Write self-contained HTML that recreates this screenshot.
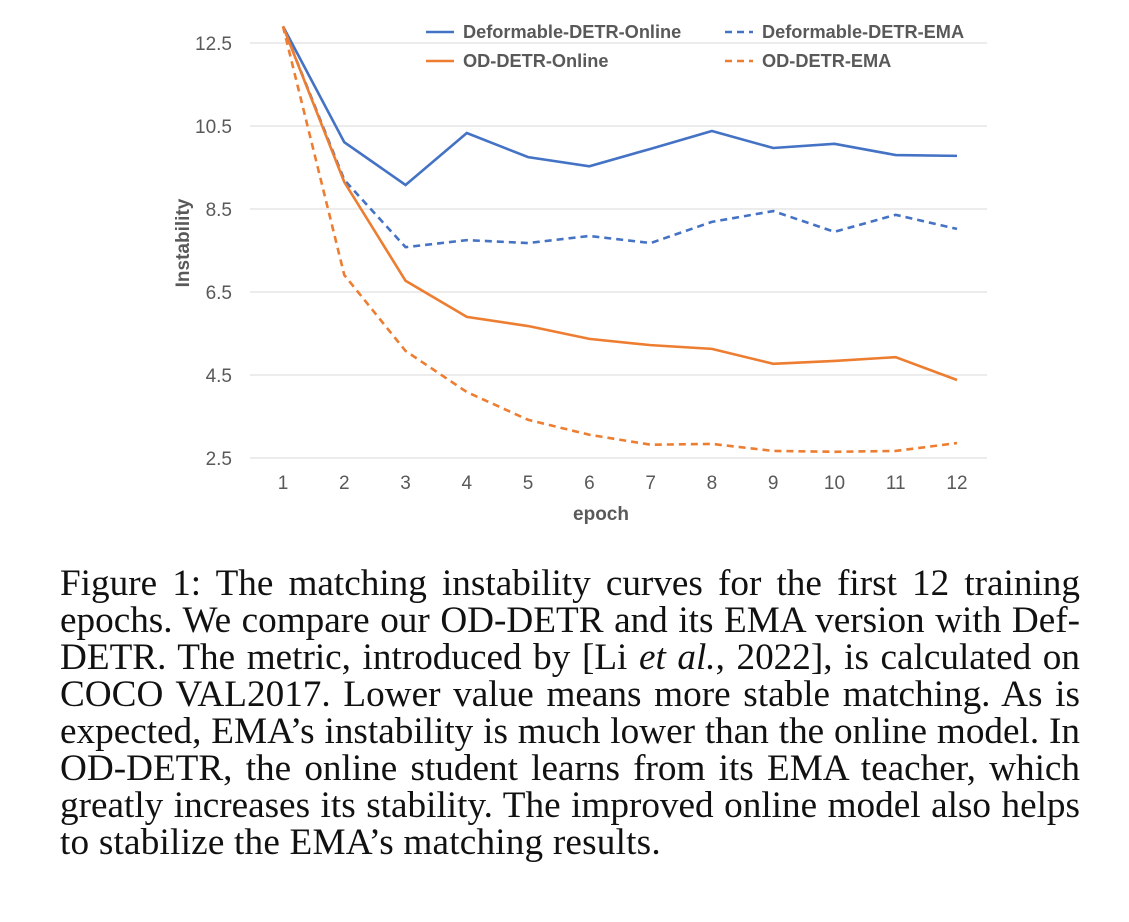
<!DOCTYPE html>
<html><head><meta charset="utf-8"><style>
body{margin:0;background:#fff;width:1129px;height:922px;overflow:hidden;position:relative}
svg text{font-family:"Liberation Sans",sans-serif}
#cap{position:absolute;left:60px;top:565px;width:1020px;font-family:"Liberation Serif",serif;font-size:37.2px;line-height:37px;color:#111}
#cap div{text-align:justify;text-align-last:justify;white-space:nowrap;height:37px}
#cap div.last{text-align-last:left;letter-spacing:0.2px}
</style></head><body>
<svg id="chart" width="1129" height="560" style="position:absolute;left:0;top:0"></svg>
<div id="cap">
<div>Figure 1: The matching instability curves for the first 12 training</div>
<div>epochs. We compare our OD-DETR and its EMA version with Def-</div>
<div>DETR. The metric, introduced by [Li <i>et al.</i>, 2022], is calculated on</div>
<div>COCO VAL2017. Lower value means more stable matching. As is</div>
<div>expected, EMA’s instability is much lower than the online model. In</div>
<div>OD-DETR, the online student learns from its EMA teacher, which</div>
<div>greatly increases its stability. The improved online model also helps</div>
<div class="last">to stabilize the EMA’s matching results.</div>
</div>
<script>
const epochs=[1,2,3,4,5,6,7,8,9,10,11,12];
const yTicks=[2.5,4.5,6.5,8.5,10.5,12.5];
const defOnline=[12.9,10.11,9.08,10.33,9.75,9.53,9.95,10.38,9.97,10.07,9.80,9.78];
const defEma=[12.9,9.2,7.58,7.75,7.68,7.85,7.68,8.19,8.45,7.95,8.36,8.02];
const odOnline=[12.9,9.15,6.77,5.9,5.68,5.37,5.22,5.13,4.77,4.84,4.93,4.38];
const odEma=[12.9,6.91,5.08,4.09,3.42,3.06,2.82,2.84,2.67,2.65,2.67,2.86];
const svg=document.getElementById('chart');const NS='http://www.w3.org/2000/svg';
const X=e=>283+(e-1)*(957-283)/11;
const Y=v=>458-(v-2.5)*41.5;
function mk(t,a,p){const el=document.createElementNS(NS,t);for(const k in a)el.setAttribute(k,a[k]);(p||svg).appendChild(el);return el;}
yTicks.forEach(v=>{
const g=mk('line',{x1:250,x2:987,y1:Y(v),y2:Y(v),stroke:'#d9d9d9','stroke-width':1});


const t=mk('text',{x:232,y:Y(v)+7,'text-anchor':'end','font-size':19,fill:'#595959'});t.textContent=v.toFixed(1);


});
epochs.forEach(e=>{const t=mk('text',{x:X(e),y:489,'text-anchor':'middle','font-size':19,fill:'#595959'});t.textContent=e;

});
let t=mk('text',{x:601,y:520,'text-anchor':'middle','font-size':19,'font-weight':'bold',fill:'#595959'});t.textContent='epoch';


t=mk('text',{x:0,y:0,'text-anchor':'middle','font-size':19,'font-weight':'bold',fill:'#595959',transform:'translate(189,243) rotate(-90)'});t.textContent='Instability';


const series=[[defOnline,'#4472c4',null,'deformable-detr-online'],[defEma,'#4472c4','7,5','deformable-detr-ema'],[odOnline,'#ed7d31',null,'od-detr-online'],[odEma,'#ed7d31','7,5','od-detr-ema']];
series.forEach(s=>{const a={points:s[0].map((v,i)=>X(epochs[i])+','+Y(v)).join(' '),fill:'none',stroke:s[1],'stroke-width':2.6};if(s[2])a['stroke-dasharray']=s[2];
const p=mk('polyline',a);

});
const leg=[[426,32,'#4472c4',null,'Deformable-DETR-Online'],[725,32,'#4472c4','7,5','Deformable-DETR-EMA'],[426,61,'#ed7d31',null,'OD-DETR-Online'],[725,61,'#ed7d31','7,5','OD-DETR-EMA']];
leg.forEach(l=>{const a={x1:l[0],x2:l[0]+28,y1:l[1],y2:l[1],stroke:l[2],'stroke-width':2.6};if(l[3])a['stroke-dasharray']=l[3];
const ln=mk('line',a);


const tx=mk('text',{x:l[0]+37,y:l[1]+6,'font-size':18.2,'font-weight':'bold',fill:'#595959'});tx.textContent=l[4];

});
</script>
</body></html>
